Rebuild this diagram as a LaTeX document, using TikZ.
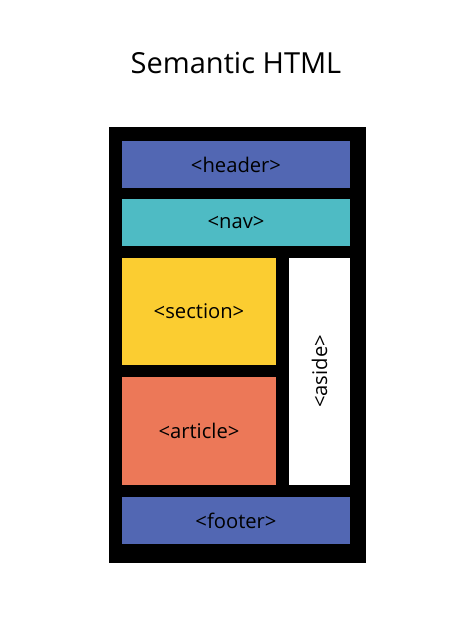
\documentclass[tikz,border=0pt]{standalone}
\usepackage{fontspec}
\setmainfont{Open Sans}
\definecolor{headblue}{HTML}{5267B3}
\definecolor{navteal}{HTML}{4EBBC4}
\definecolor{secyellow}{HTML}{FBCD31}
\definecolor{artorange}{HTML}{EC7858}
\begin{document}
\begin{tikzpicture}[x=0.02cm, y=-0.02cm, title node/.style={font=\fontsize{16.5}{19}\selectfont, align=center, inner sep=0pt},frame node/.style={fill=black, minimum width=5.14cm, minimum height=8.72cm, inner sep=0pt},tag node/.style={font=\fontsize{11.5}{13}\selectfont, align=center, inner sep=0pt, text=black},wide node/.style={tag node, minimum width=4.56cm, minimum height=0.94cm}]%
\node[title node] (title) at (236,63) {Semantic HTML};%
  % page frame%
\node[frame node] (frame) at (237.5,345) {};%
  % full width rows%
\node[wide node, fill=headblue] (header) at (236,164.5) {<header>};%
\node[wide node, fill=navteal] (nav) at (236,222.5) {<nav>};%
\node[wide node, fill=headblue] (footer) at (236,520.5) {<footer>};%
  % main column%
\node[tag node, fill=secyellow, minimum width=3.08cm, minimum height=2.14cm] (section) at (199,311.5) {<section>};%
\node[tag node, fill=artorange, minimum width=3.08cm, minimum height=2.16cm] (article) at (199,431) {<article>};%
  % side column%
\node[tag node, fill=white, minimum width=1.22cm, minimum height=4.54cm] (aside) at (319.5,371.5) {};%
\node[tag node, rotate=90] (asidetext) at (aside.center) {<aside>};%
\path[use as bounding box] (0,0) rectangle (474,632);%
\end{tikzpicture}
\end{document}
